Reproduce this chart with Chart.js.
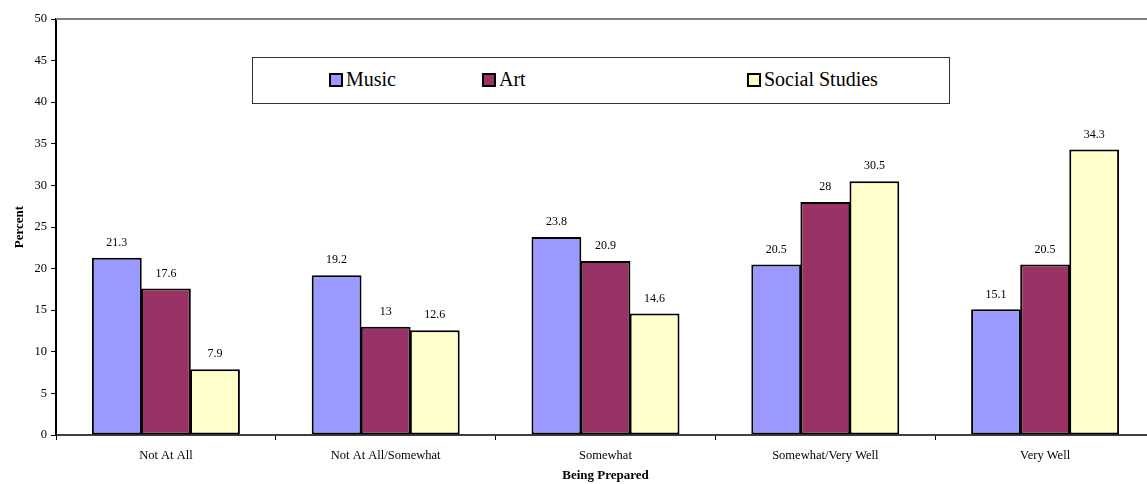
<!DOCTYPE html>
<html>
<head>
<meta charset="utf-8">
<script src="https://cdn.jsdelivr.net/npm/chart.js@4.4.1/dist/chart.umd.min.js"></script>
<style>
    html, body { margin: 0; padding: 0; background: #fff; overflow: hidden; }
    #wrap { position: relative; width: 1160px; height: 484px; }
    #legend {
        position: absolute; left: 252px; top: 57px; width: 696px; height: 45px;
        border: 1px solid #333; background: #fff;
        font-family: "Liberation Serif", "Times New Roman", serif; font-size: 20px; color: #000;
    }
    #legend .item { position: absolute; top: 10px; display: flex; align-items: center; white-space: nowrap; }
    #legend .swatch { width: 10px; height: 10px; border: 2px solid #000; margin-right: 3px; }
</style>
</head>
<body>
<div id="wrap">
    <canvas id="chart" width="1160" height="484"></canvas>
    <div id="legend"></div>
</div>
<script>
const categories = ['Not At All', 'Not At All/Somewhat', 'Somewhat', 'Somewhat/Very Well', 'Very Well'];
const seriesNames = ['Music', 'Art', 'Social Studies'];
const musicValues = [21.3, 19.2, 23.8, 20.5, 15.1];
const artValues = [17.6, 13, 20.9, 28, 20.5];
const socialValues = [7.9, 12.6, 14.6, 30.5, 34.3];
const seriesColors = ['#9999FF', '#993366', '#FFFFCC'];
const yTicks = [0, 5, 10, 15, 20, 25, 30, 35, 40, 45, 50];

const serif = '"Liberation Serif", "Times New Roman", serif';

// value labels above each bar
const barLabels = {
    id: 'barLabels',
    afterDatasetsDraw(chart) {
        const ctx = chart.ctx;
        ctx.save();
        ctx.font = '12px ' + serif;
        ctx.fillStyle = '#000';
        ctx.textAlign = 'center';
        ctx.textBaseline = 'bottom';
        chart.data.datasets.forEach((ds, i) => {
            chart.getDatasetMeta(i).data.forEach((bar, j) => {
                ctx.fillText(String(ds.data[j]), bar.x, bar.y - 9);
            });
        });
        ctx.restore();
    }
};

// grey frame line along the top of the plot
const topLine = {
    id: 'topLine',
    afterDraw(chart) {
        const { ctx, chartArea } = chart;
        ctx.save();
        ctx.strokeStyle = '#808080';
        ctx.lineWidth = 2;
        ctx.beginPath();
        ctx.moveTo(chartArea.left, chartArea.top);
        ctx.lineTo(chartArea.right, chartArea.top);
        ctx.stroke();
        ctx.restore();
    }
};

const datasets = [musicValues, artValues, socialValues].map((data, i) => ({
    label: seriesNames[i],
    data,
    backgroundColor: seriesColors[i],
    borderColor: '#000',
    borderWidth: 2,
    borderSkipped: false,
    categoryPercentage: 0.67,
    barPercentage: 1.015
}));

new Chart(document.getElementById('chart').getContext('2d'), {
    type: 'bar',
    data: { labels: categories, datasets },
    options: {
        responsive: false,
        animation: false,
        layout: { padding: { top: 19, right: 5, left: 0, bottom: 0 } },
        plugins: {
            legend: { display: false },
            tooltip: { enabled: false }
        },
        scales: {
            x: {
                grid: { display: true, drawOnChartArea: false, offset: true, tickLength: 5, color: '#000' },
                border: { color: '#404040', width: 2 },
                ticks: { color: '#000', font: { family: serif, size: 12.5 }, padding: 8, maxRotation: 0 },
                title: { display: true, text: 'Being Prepared', color: '#000', font: { family: serif, size: 13, weight: 'bold' }, padding: { top: 4, bottom: 1 } },
                afterFit(scale) { scale.height = 49; }
            },
            y: {
                min: 0,
                max: 50,
                afterBuildTicks(scale) { scale.ticks = yTicks.map(v => ({ value: v })); },
                grid: { display: true, drawOnChartArea: false, tickLength: 5, color: '#000' },
                border: { color: '#000', width: 2 },
                ticks: { color: '#000', font: { family: serif, size: 12.5 }, padding: 4 },
                title: { display: true, text: 'Percent', color: '#000', font: { family: serif, size: 13, weight: 'bold' }, padding: { top: 12, bottom: 0 } },
                afterFit(scale) { scale.width = 56; }
            }
        }
    },
    plugins: [barLabels, topLine]
});

// legend box inside the plot area
const legendLeft = [76, 229, 494];
const legendEl = document.getElementById('legend');
seriesNames.forEach((name, i) => {
    const item = document.createElement('div');
    item.className = 'item';
    item.style.left = legendLeft[i] + 'px';
    const sw = document.createElement('span');
    sw.className = 'swatch';
    sw.style.background = seriesColors[i];
    const txt = document.createElement('span');
    txt.textContent = name;
    item.appendChild(sw);
    item.appendChild(txt);
    legendEl.appendChild(item);
});
</script>
</body>
</html>
